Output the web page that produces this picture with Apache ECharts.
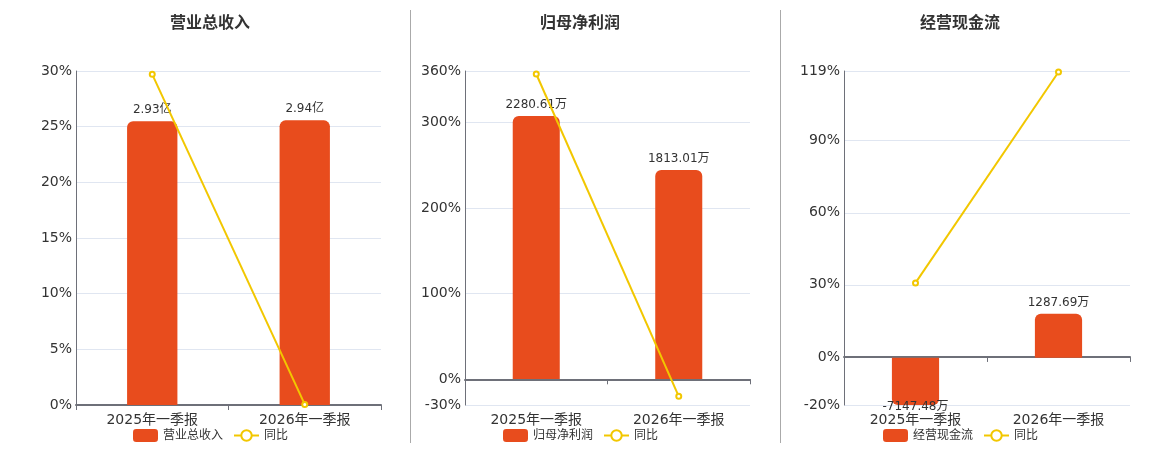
<!DOCTYPE html>
<html>
<head>
<meta charset="utf-8">
<script src="https://cdn.jsdelivr.net/npm/echarts@6/dist/echarts.min.js"></script>
<style>
  html, body { margin: 0; padding: 0; background: #fff; }
  #main { width: 1160px; height: 450px; }
</style>
</head>
<body>
<div id="main"></div>
<script>
var categories = ['2025年一季报', '2026年一季报'];

// 营业总收入 (亿) / 同比 (%)
var revenue = [2.93, 2.94];
var revenueYoy = [29.7, 0.05];
// 归母净利润 (万) / 同比 (%)
var profit = [2280.61, 1813.01];
var profitYoy = [356.5, -19.9];
// 经营现金流 (万) / 同比 (%)
var cashflow = [-7147.48, 1287.69];
var cashflowYoy = [30.8, 118.6];

var titles = ['营业总收入', '归母净利润', '经营现金流'];
var units = ['亿', '万', '万'];
var pctTicks = [
  [0, 5, 10, 15, 20, 25, 30],
  [-30, 0, 100, 200, 300, 360],
  [-20, 0, 30, 60, 90, 119]
];
// hidden bar axis ranges, picked so zero lines up with the % axis
var barRange = [[0, 3.45], [-225.5, 2670.8], [-1375, 8370]];

var barColor = '#E84C1D';
var lineColor = '#F2C700';
var font = 'DejaVu Sans, Noto Sans CJK SC, sans-serif';

var grids = [
  { left: 76, width: 305, top: 71, height: 334 },
  { left: 465, width: 285, top: 71, height: 334 },
  { left: 844, width: 286, top: 71, height: 334 }
];
var centers = [210, 580, 960];
var barData = [revenue, profit, cashflow];
var lineData = [revenueYoy, profitYoy, cashflowYoy];

var option = {
  textStyle: { fontFamily: font },
  animation: false,
  title: [], legend: [], grid: [], xAxis: [], yAxis: [], series: [],
  graphic: [
    { type: 'line', shape: { x1: 410.5, y1: 10, x2: 410.5, y2: 443 }, style: { stroke: '#aaa', lineWidth: 1 } },
    { type: 'line', shape: { x1: 780.5, y1: 10, x2: 780.5, y2: 443 }, style: { stroke: '#aaa', lineWidth: 1 } }
  ]
};

for (var i = 0; i < 3; i++) {
  var ticks = pctTicks[i];
  option.title.push({
    text: titles[i], left: centers[i], top: 16, textAlign: 'center', padding: 0,
    textStyle: { fontSize: 16, fontWeight: 'bold', color: '#333', fontFamily: font }
  });
  option.legend.push({
    data: [titles[i], '同比'], left: centers[i] - 82, top: 424,
    itemWidth: 25, itemHeight: 13, itemGap: 10,
    textStyle: { fontSize: 12, color: '#333', fontFamily: font }
  });
  option.grid.push(grids[i]);
  option.xAxis.push({
    type: 'category', gridIndex: i, data: categories,
    axisLine: { lineStyle: { color: '#6E7079', width: 2 }, onZero: true, onZeroAxisIndex: i * 2 },
    axisTick: { show: true, lineStyle: { color: '#6E7079' } },
    axisLabel: { fontSize: 14, color: '#333', margin: 8, interval: 0 }
  });
  option.yAxis.push({
    type: 'value', gridIndex: i, min: ticks[0], max: ticks[ticks.length - 1],
    axisLine: { show: true, lineStyle: { color: '#6E7079' } },
    axisTick: { show: false, customValues: ticks },
    axisLabel: { fontSize: 14, color: '#333', margin: 4, customValues: ticks, formatter: '{value}%' },
    splitLine: { show: true, lineStyle: { color: '#E0E6F1' } }
  });
  option.yAxis.push({
    type: 'value', gridIndex: i, min: barRange[i][0], max: barRange[i][1], show: false,
    splitLine: { show: false }
  });
  (function (unit) {
    option.series.push({
      name: titles[i], type: 'bar', xAxisIndex: i, yAxisIndex: i * 2 + 1,
      barWidth: '33%',
      data: barData[i].map(function (v) {
        return {
          value: v,
          itemStyle: { borderRadius: v < 0 ? [0, 0, 6, 6] : [6, 6, 0, 0] },
          label: v < 0 ? { position: 'bottom', distance: -4 } : {}
        };
      }),
      itemStyle: { color: barColor },
      label: {
        show: true, position: 'top', distance: 5, fontSize: 12, color: '#333',
        formatter: function (p) { return p.value + unit; }
      }
    });
  })(units[i]);
  option.series.push({
    name: '同比', type: 'line', xAxisIndex: i, yAxisIndex: i * 2,
    data: lineData[i], symbol: 'emptyCircle', symbolSize: 5,
    lineStyle: { color: lineColor, width: 2 },
    itemStyle: { color: lineColor }, z: 5
  });
}

var chart = echarts.init(document.getElementById('main'));
chart.setOption(option);
</script>
</body>
</html>
